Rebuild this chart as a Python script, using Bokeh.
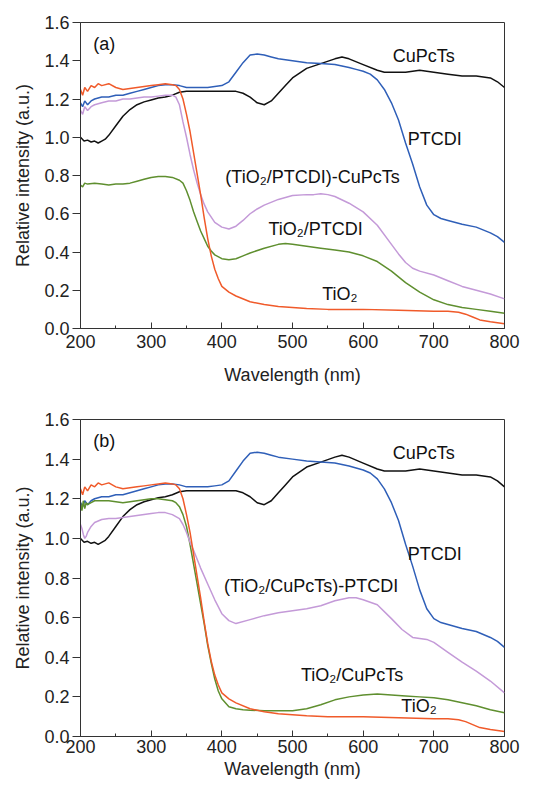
from bokeh.plotting import figure
from bokeh.layouts import column
from bokeh.models import ColumnDataSource, FixedTicker, PrintfTickFormatter
from bokeh.core.properties import value
from bokeh.embed import file_html
from bokeh.resources import INLINE

# ---------------- data ----------------
# CuPcTs (same in both panels)
cupcts_x = [200, 205, 210, 215, 220, 225, 230, 235, 240, 250, 260, 270, 280, 290, 300, 310, 320, 330, 340, 350,
            370, 400, 420, 430, 440, 450, 460, 470, 480, 490, 500, 520, 540, 560, 570, 580, 600, 620, 630, 640,
            660, 680, 700, 720, 740, 760, 780, 790, 800]
cupcts_y = [1.00, 0.98, 0.985, 0.975, 0.98, 0.97, 0.98, 0.99, 1.01, 1.06, 1.11, 1.145, 1.17, 1.185, 1.195, 1.205,
            1.21, 1.22, 1.235, 1.24, 1.24, 1.24, 1.24, 1.23, 1.21, 1.18, 1.17, 1.19, 1.23, 1.27, 1.31, 1.36, 1.385,
            1.41, 1.42, 1.41, 1.38, 1.35, 1.34, 1.34, 1.34, 1.35, 1.34, 1.33, 1.32, 1.32, 1.31, 1.29, 1.26]

# PTCDI (same in both panels)
ptcdi_x = [200, 203, 206, 210, 215, 220, 230, 240, 250, 260, 270, 280, 290, 300, 310, 320, 330, 340, 350, 360,
           370, 380, 390, 400, 410, 420, 430, 440, 450, 460, 470, 480, 500, 520, 540, 560, 580, 590, 600, 610,
           620, 630, 640, 650, 660, 670, 680, 690, 700, 710, 720, 740, 760, 780, 790, 800]
ptcdi_y = [1.18, 1.16, 1.19, 1.17, 1.19, 1.20, 1.21, 1.21, 1.22, 1.22, 1.23, 1.24, 1.25, 1.26, 1.27, 1.275, 1.275,
           1.27, 1.26, 1.26, 1.26, 1.26, 1.265, 1.27, 1.29, 1.34, 1.39, 1.43, 1.435, 1.43, 1.42, 1.41, 1.40, 1.39,
           1.385, 1.38, 1.365, 1.355, 1.345, 1.33, 1.30, 1.25, 1.18, 1.09, 0.97, 0.86, 0.74, 0.645, 0.595, 0.575,
           0.565, 0.545, 0.53, 0.50, 0.48, 0.45]

# TiO2 (same in both panels)
tio2_x = [200, 203, 206, 210, 215, 220, 225, 230, 240, 250, 260, 270, 280, 290, 300, 310, 320, 330, 335, 340,
          345, 350, 355, 360, 365, 370, 375, 380, 385, 390, 395, 400, 410, 420, 440, 460, 480, 500, 520, 550,
          600, 650, 700, 720, 735, 745, 755, 765, 780, 800]
tio2_y = [1.25, 1.22, 1.26, 1.24, 1.27, 1.26, 1.28, 1.27, 1.28, 1.26, 1.25, 1.255, 1.26, 1.265, 1.27, 1.275, 1.28,
          1.275, 1.27, 1.25, 1.20, 1.12, 1.03, 0.92, 0.81, 0.70, 0.58, 0.47, 0.38, 0.31, 0.26, 0.22, 0.19, 0.17,
          0.14, 0.125, 0.115, 0.11, 0.105, 0.10, 0.10, 0.095, 0.09, 0.09, 0.085, 0.075, 0.06, 0.045, 0.035, 0.025]

# panel (a): (TiO2/PTCDI)-CuPcTs
pa_x = [200, 203, 206, 210, 215, 220, 230, 240, 250, 260, 270, 280, 290, 300, 310, 320, 330, 335, 340, 345, 350,
        355, 360, 365, 370, 375, 380, 390, 400, 410, 420, 430, 440, 450, 460, 480, 500, 520, 530, 540, 550, 560,
        580, 600, 620, 640, 650, 660, 670, 680, 700, 720, 740, 760, 780, 800]
pa_y = [1.14, 1.12, 1.16, 1.14, 1.16, 1.17, 1.18, 1.19, 1.19, 1.20, 1.20, 1.205, 1.21, 1.21, 1.215, 1.22, 1.22,
        1.21, 1.17, 1.08, 1.00, 0.91, 0.83, 0.76, 0.70, 0.65, 0.61, 0.555, 0.53, 0.52, 0.535, 0.565, 0.60, 0.625,
        0.645, 0.675, 0.695, 0.70, 0.70, 0.705, 0.70, 0.69, 0.655, 0.61, 0.54, 0.44, 0.39, 0.345, 0.315, 0.30,
        0.28, 0.25, 0.22, 0.20, 0.18, 0.155]

# panel (a): TiO2/PTCDI
ga_x = [200, 203, 206, 210, 220, 230, 240, 250, 260, 270, 280, 290, 300, 310, 320, 330, 340, 345, 350, 355, 360,
        365, 370, 375, 380, 385, 390, 400, 410, 420, 430, 440, 460, 480, 490, 500, 520, 540, 560, 580, 600, 620,
        640, 660, 680, 700, 720, 740, 760, 780, 800]
ga_y = [0.75, 0.74, 0.76, 0.755, 0.76, 0.755, 0.75, 0.755, 0.755, 0.76, 0.77, 0.78, 0.79, 0.795, 0.795, 0.79,
        0.775, 0.76, 0.72, 0.67, 0.61, 0.56, 0.51, 0.47, 0.43, 0.405, 0.385, 0.365, 0.36, 0.365, 0.38, 0.395,
        0.42, 0.44, 0.445, 0.44, 0.43, 0.42, 0.41, 0.40, 0.38, 0.35, 0.30, 0.24, 0.19, 0.15, 0.125, 0.11, 0.10,
        0.09, 0.08]

# panel (b): (TiO2/CuPcTs)-PTCDI
pb_x = [200, 202, 204, 206, 208, 210, 215, 220, 230, 240, 250, 260, 270, 280, 290, 300, 310, 320, 330, 340, 345,
        350, 355, 360, 370, 380, 390, 400, 410, 420, 440, 460, 480, 500, 520, 540, 560, 580, 590, 600, 620, 640,
        655, 670, 680, 690, 700, 720, 740, 760, 780, 800]
pb_y = [1.07, 1.05, 1.02, 1.00, 1.01, 1.03, 1.06, 1.08, 1.095, 1.10, 1.10, 1.105, 1.11, 1.115, 1.12, 1.125, 1.13,
        1.13, 1.12, 1.10, 1.07, 1.03, 0.98, 0.94, 0.85, 0.77, 0.69, 0.62, 0.585, 0.57, 0.59, 0.61, 0.625, 0.635,
        0.645, 0.66, 0.685, 0.70, 0.70, 0.69, 0.665, 0.595, 0.54, 0.50, 0.495, 0.49, 0.475, 0.425, 0.375, 0.33,
        0.28, 0.22]

# panel (b): TiO2/CuPcTs
gb_x = [200, 202, 204, 206, 208, 210, 215, 220, 230, 240, 250, 260, 270, 280, 290, 300, 310, 320, 330, 335, 340,
        345, 350, 355, 360, 365, 370, 375, 380, 385, 390, 395, 400, 410, 420, 430, 440, 460, 480, 500, 520, 540,
        560, 580, 600, 620, 640, 660, 680, 700, 720, 740, 760, 780, 800]
gb_y = [1.18, 1.14, 1.19, 1.15, 1.18, 1.17, 1.18, 1.19, 1.19, 1.19, 1.185, 1.18, 1.185, 1.19, 1.195, 1.20, 1.20,
        1.195, 1.19, 1.18, 1.16, 1.12, 1.06, 0.97, 0.87, 0.77, 0.67, 0.57, 0.46, 0.37, 0.29, 0.23, 0.19, 0.15,
        0.14, 0.135, 0.133, 0.13, 0.13, 0.13, 0.14, 0.16, 0.185, 0.20, 0.21, 0.215, 0.21, 0.205, 0.20, 0.195,
        0.185, 0.17, 0.155, 0.135, 0.12]

# tick values
x_ticks = [200, 300, 400, 500, 600, 700, 800]
x_minor = [250, 350, 450, 550, 650, 750]
y_ticks = [0.0, 0.2, 0.4, 0.6, 0.8, 1.0, 1.2, 1.4, 1.6]

# curve labels
a_label_x = [218, 642, 663, 405, 466, 542]
a_label_y = [1.49, 1.425, 0.99, 0.79, 0.52, 0.18]
a_label_text = ["(a)", "CuPcTs", "PTCDI", "(TiO\u2082/PTCDI)-CuPcTs", "TiO\u2082/PTCDI", "TiO\u2082"]

b_label_x = [218, 642, 663, 403, 512, 654]
b_label_y = [1.49, 1.43, 0.92, 0.76, 0.31, 0.155]
b_label_text = ["(b)", "CuPcTs", "PTCDI", "(TiO\u2082/CuPcTs)-PTCDI", "TiO\u2082/CuPcTs", "TiO\u2082"]

# ---------------- styling ----------------
BLACK = "#111111"
BLUE = "#2f5fb8"
RED = "#f05a2a"
PURPLE = "#c49ad8"
GREEN = "#5f8f2f"
FONT = "Liberation Sans"


def make_panel(height, bl, br, bt, bb, series, lx, ly, lt, lab_standoff, axlab_standoff):
    p = figure(width=534, height=height, x_range=(200, 800), y_range=(0, 1.6),
               output_backend="svg", toolbar_location=None,
               min_border_left=bl, min_border_right=br, min_border_top=bt, min_border_bottom=bb)
    p.xgrid.visible = False
    p.ygrid.visible = False
    p.outline_line_color = "#333333"
    p.outline_line_width = 1
    p.background_fill_color = "white"
    p.border_fill_color = "white"

    for xs, ys, c in series:
        p.line(xs, ys, line_color=c, line_width=1.5)

    src = ColumnDataSource(dict(x=lx, y=ly, t=lt))
    p.text(x="x", y="y", text="t", source=src, text_font=value(FONT),
           text_font_size=value("18px"), text_color="#111111",
           text_align="left", text_baseline="middle")

    xa = p.xaxis[0]
    xa.ticker = FixedTicker(ticks=x_ticks, minor_ticks=x_minor)
    xa.major_tick_in = 6
    xa.major_tick_out = 0
    xa.minor_tick_in = 3
    xa.minor_tick_out = 0
    xa.axis_label = "Wavelength (nm)"
    xa.major_label_standoff = lab_standoff
    xa.axis_label_standoff = axlab_standoff

    ya = p.yaxis[0]
    ya.ticker = FixedTicker(ticks=y_ticks, minor_ticks=[])
    ya.formatter = PrintfTickFormatter(format="%.1f")
    ya.major_tick_in = 0
    ya.major_tick_out = 8
    ya.minor_tick_in = 0
    ya.minor_tick_out = 0
    ya.axis_label = "Relative intensity (a.u.)"
    ya.major_label_standoff = 3
    ya.axis_label_standoff = 8

    for ax in (xa, ya):
        ax.axis_line_color = "#333333"
        ax.major_tick_line_color = "#333333"
        ax.minor_tick_line_color = "#333333"
        ax.major_label_text_font = FONT
        ax.major_label_text_font_size = "18px"
        ax.major_label_text_color = "#222222"
        ax.axis_label_text_font = FONT
        ax.axis_label_text_font_size = "18px"
        ax.axis_label_text_font_style = "normal"
        ax.axis_label_text_color = "#222222"
    return p


pa = make_panel(395, 77, 30, 22, 67,
                [(cupcts_x, cupcts_y, BLACK), (ptcdi_x, ptcdi_y, BLUE), (ga_x, ga_y, GREEN),
                 (pa_x, pa_y, PURPLE), (tio2_x, tio2_y, RED)],
                a_label_x, a_label_y, a_label_text, 6, 14)

pb = make_panel(390, 80, 27, 24, 49,
                [(cupcts_x, cupcts_y, BLACK), (ptcdi_x, ptcdi_y, BLUE), (gb_x, gb_y, GREEN),
                 (pb_x, pb_y, PURPLE), (tio2_x, tio2_y, RED)],
                b_label_x, b_label_y, b_label_text, 3, 3)

layout = column(pa, pb, spacing=0)

open("out.html", "w").write(file_html(layout, INLINE))
